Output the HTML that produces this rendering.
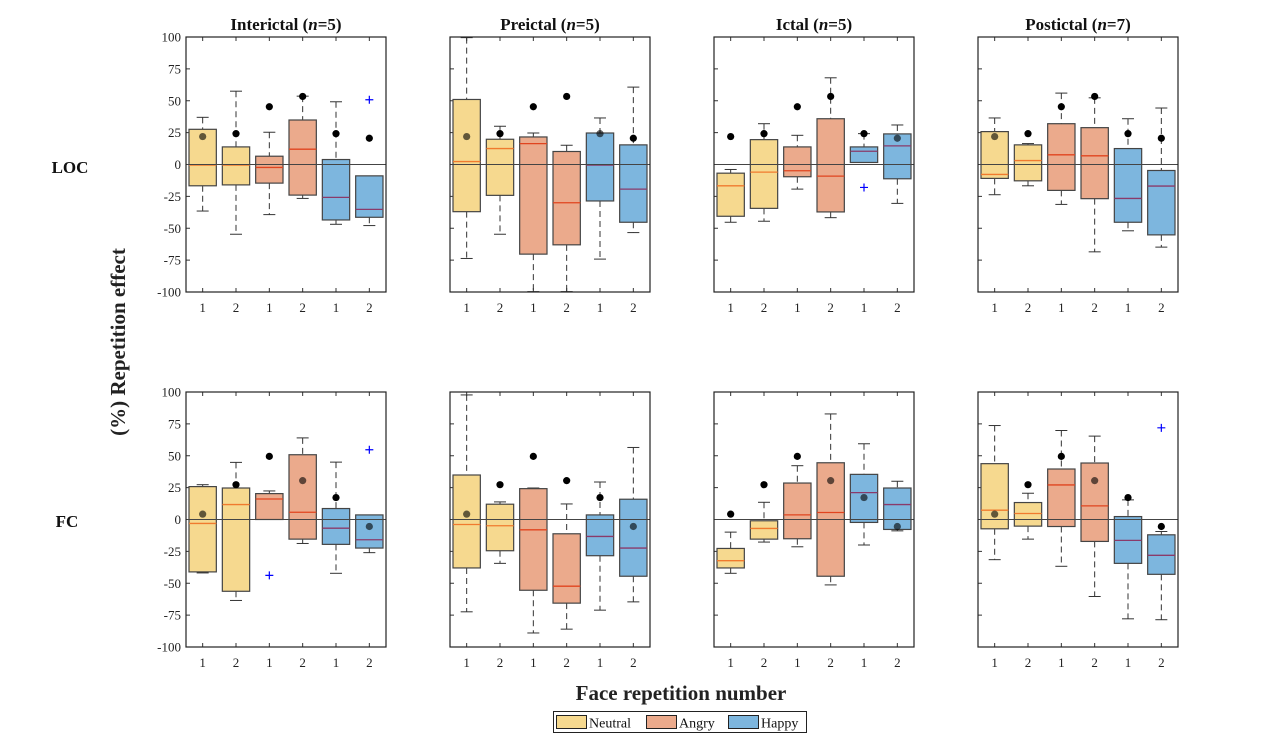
<!DOCTYPE html>
<html><head><meta charset="utf-8"><style>
body{margin:0;background:#fff;}
svg{display:block;font-family:"Liberation Serif",serif;}
</style></head><body>
<svg id="chart" width="1280" height="749" viewBox="0 0 1280 749">
<text x="125" y="342" transform="rotate(-90 125 342)" text-anchor="middle" font-size="21" font-weight="bold" fill="#222">(%) Repetition effect</text>
<text x="681" y="700" text-anchor="middle" font-size="21" font-weight="bold" fill="#222">Face repetition number</text>
<text x="70" y="173" text-anchor="middle" font-size="17" font-weight="bold" fill="#111">LOC</text>
<text x="67" y="527" text-anchor="middle" font-size="17" font-weight="bold" fill="#111">FC</text>
<g>
<rect x="553.5" y="711.5" width="253" height="21" fill="#fff" stroke="#222" stroke-width="1"/>
<rect x="556.5" y="715.5" width="30" height="13" fill="#F6D98F" stroke="#222"/>
<text x="589" y="727.5" font-size="14" fill="#111">Neutral</text>
<rect x="646.5" y="715.5" width="30" height="13" fill="#EBAA8C" stroke="#222"/>
<text x="679" y="727.5" font-size="14" fill="#111">Angry</text>
<rect x="728.5" y="715.5" width="30" height="13" fill="#7DB6DE" stroke="#222"/>
<text x="761" y="727.5" font-size="14" fill="#111">Happy</text>
</g>
</svg>
<script>
const titles = ["Interictal", "Preictal", "Ictal", "Postictal"];
const nVals = [5, 5, 5, 7];
const categories = ["1","2","1","2","1","2"];
const yTicks = [100,75,50,25,0,-25,-50,-75,-100];
// each box: [whiskerLow, q1, median, q3, whiskerHigh]
const locBoxes = [
 [[-36.5,-16.7,-0.5,27.6,37],[-54.7,-16,-0.5,13.8,57.5],[-39.3,-14.6,-2.3,6.5,25.3],[-26.6,-24,12,34.9,53.6],[-46.9,-43.5,-25.8,3.9,49.2],[-47.9,-41.4,-35.2,-8.9,-8.9]],
 [[-73.7,-37,2.3,51,99.5],[-54.7,-24.2,12.5,19.8,30],[-99.7,-70.3,16.4,21.6,24.7],[-99.7,-63,-30,10.2,15.1],[-74.2,-28.6,-0.5,24.7,36.5],[-53.4,-45.3,-19.3,15.4,60.7]],
 [[-45.3,-40.6,-16.7,-6.8,-3.9],[-44.5,-34.4,-6,19.5,32],[-19.3,-9.6,-4.9,13.8,22.9],[-41.7,-37.2,-9.1,35.9,68],[1.6,1.6,10.4,13.8,24.2],[-30.5,-11.2,14.6,24,31]],
 [[-23.7,-10.9,-7.8,25.8,36.5],[-16.7,-12.8,3.1,15.4,16.4],[-31.3,-20.3,7.6,32,56],[-68.5,-26.8,6.8,28.9,52.3],[-52,-45.3,-26.6,12.5,35.9],[-64.8,-55.2,-16.9,-4.7,44.3]]
];
const fcBoxes = [
 [[-41.9,-41.1,-3.1,25.8,27.3],[-63.5,-56.3,11.7,24.7,44.8],[0,0,16.1,20.3,22.4],[-18.8,-15.4,5.7,50.8,64],[-42.2,-19.5,-6.8,8.6,45],[-26,-22.4,-15.9,3.6,3.6]],
 [[-72.4,-38,-3.9,34.9,97.7],[-34.4,-24.5,-4.9,12,13.8],[-89,-55.5,-8.1,24.2,24.7],[-86,-65.6,-52.3,-11.2,12.2],[-71.1,-28.4,-13.3,3.6,29.4],[-64.6,-44.5,-22.4,15.9,56.5]],
 [[-42.2,-38,-32.3,-22.7,-9.9],[-17.7,-15.4,-7,-1,13.5],[-21.4,-15.1,3.6,28.6,42.2],[-51.3,-44.5,5.5,44.5,82.8],[-20,-2.3,21.1,35.4,59.4],[-8.9,-7.8,11.7,24.7,30]],
 [[-31.5,-7.3,7.3,43.8,73.7],[-15.4,-5.2,4.7,13.3,20.6],[-36.7,-5.5,27.1,39.6,69.8],[-60.4,-17.2,10.7,44.3,65.4],[-77.9,-34.4,-16.4,2.3,15.4],[-78.6,-43,-28.1,-12,-9.4]]
];
const locMeans = [21.9,24.2,45.3,53.4,24.2,20.6];
const fcMeans = [4.2,27.3,49.5,30.5,17.2,-5.5];
// outliers: [panelIndex, boxIndex, value]
const locOutliers = [[0,5,50.8],[2,4,-18]];
const fcOutliers = [[0,2,-43.8],[0,5,54.7],[3,5,71.9]];

const fills = ["#F6D98F","#F6D98F","#EBAA8C","#EBAA8C","#7DB6DE","#7DB6DE"];
const medCols = ["#F07A2E","#F07A2E","#E0441F","#E0441F","#8A3A6A","#8A3A6A"];
const NS = "http://www.w3.org/2000/svg";
const svg = document.getElementById("chart");
const panelX = [186, 450, 714, 978], PW = 200;
const rowY = [37, 392], PH = 255;

function mk(tag, attrs, parent){ const e=document.createElementNS(NS,tag); for(const k in attrs) e.setAttribute(k,attrs[k]); (parent||svg).appendChild(e); return e; }

function drawPanel(col,row,boxes,means,outliers){
  const x0=panelX[col], y0=rowY[row];
  const xs = i => x0 + (i+0.5) * PW/6 ;
  const ys = v => y0 + (100 - v) / 200 * PH;
  const g = mk("g",{});
  
  
  mk("rect",{x:x0+0.5,y:y0+0.5,width:PW,height:PH,fill:"#fff",stroke:"none"},g);
  yTicks.forEach(t=>{
    mk("line",{x1:x0,x2:x0+4,y1:ys(t),y2:ys(t),stroke:"#333","stroke-width":1},g);
    if(col===0){
      const tx=mk("text",{x:x0-5,y:ys(t)+4.5,"text-anchor":"end","font-size":13,fill:"#222"},g);
      tx.textContent=t;
      
      
    }
  });
  categories.forEach((c,i)=>{
    mk("line",{x1:xs(i),x2:xs(i),y1:y0,y2:y0+4,stroke:"#333"},g);
    mk("line",{x1:xs(i),x2:xs(i),y1:y0+PH,y2:y0+PH-4,stroke:"#333"},g);
    const tx=mk("text",{x:xs(i),y:y0+PH+20,"text-anchor":"middle","font-size":13,fill:"#222"},g);
    tx.textContent=c;
    
    
  });
  const bw = 0.82*PW/6;
  boxes.forEach((b,i)=>{
    const [wl,q1,md,q3,wh]=b, cx=xs(i);
    const bg=mk("g",{},g);
    
    
    if(wh>q3) mk("line",{x1:cx,x2:cx,y1:ys(wh),y2:ys(q3),stroke:"#333","stroke-dasharray":"6,4"},bg);
    if(wl<q1) mk("line",{x1:cx,x2:cx,y1:ys(q1),y2:ys(wl),stroke:"#333","stroke-dasharray":"6,4"},bg);
    if(wh>q3) mk("line",{x1:cx-6,x2:cx+6,y1:ys(wh),y2:ys(wh),stroke:"#333"},bg);
    if(wl<q1) mk("line",{x1:cx-6,x2:cx+6,y1:ys(wl),y2:ys(wl),stroke:"#333"},bg);
    mk("rect",{x:cx-bw/2,y:ys(q3),width:bw,height:Math.max(ys(q1)-ys(q3),0.5),fill:fills[i],stroke:"#444","stroke-width":1.2},bg);
    mk("line",{x1:cx-bw/2,x2:cx+bw/2,y1:ys(md),y2:ys(md),stroke:medCols[i],"stroke-width":1.3},bg);
    const m=means[i], inside = m>=q1 && m<=q3;
    const d=mk("circle",{cx:cx,cy:ys(m),r:3.6,fill:"#000","fill-opacity":inside?0.6:1},bg);
    
    
  });
  outliers.filter(o=>o[0]===col).forEach(o=>{
    const cx=xs(o[1]), cy=ys(o[2]);
    const p=mk("path",{d:`M${cx-4},${cy}H${cx+4}M${cx},${cy-4}V${cy+4}`,stroke:"#0000ff","stroke-width":1.2},g);
    
    
  });
  mk("line",{x1:x0,x2:x0+PW,y1:ys(0),y2:ys(0),stroke:"#444","stroke-width":1},g);
  mk("rect",{x:x0,y:y0,width:PW,height:PH,fill:"none",stroke:"#222","stroke-width":1.2},g);
  if(row===0){
    const t=mk("text",{x:x0+PW/2,y:y0-7,"text-anchor":"middle","font-size":17,"font-weight":"bold",fill:"#111"},g);
    t.innerHTML = titles[col]+' (<tspan font-style="italic">n</tspan>='+nVals[col]+')';
    
    
  }
}
for(let c=0;c<4;c++){
  drawPanel(c,0,locBoxes[c],locMeans,locOutliers);
  drawPanel(c,1,fcBoxes[c],fcMeans,fcOutliers);
}
</script>
</body></html>
